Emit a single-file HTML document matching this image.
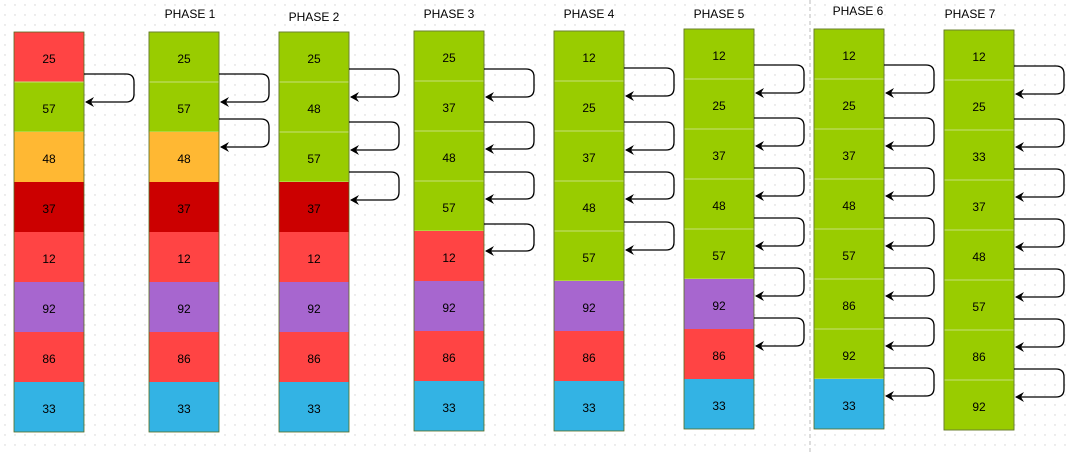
<!DOCTYPE html>
<html><head><style>html,body{margin:0;padding:0;background:#fff}</style></head><body>
<svg width="1074" height="454" xmlns="http://www.w3.org/2000/svg" font-family="Liberation Sans, sans-serif" font-size="12">
<defs>
<pattern id="g" width="10" height="10" patternUnits="userSpaceOnUse"><circle cx="5" cy="5" r="0.7" fill="#d0d0d0"/></pattern>
<marker id="a" markerWidth="10" markerHeight="10" refX="8" refY="5" orient="auto" markerUnits="userSpaceOnUse"><path d="M0,0 L9,5 L0,10 L3,5 Z" fill="#000"/></marker>
</defs>
<rect width="1074" height="454" fill="url(#g)"/>
<line x1="810" y1="0" x2="810" y2="454" stroke="#bbb" stroke-dasharray="4,3"/>
<g text-anchor="middle" fill="#000">
<text x="190" y="18">PHASE 1</text><text x="314" y="21">PHASE 2</text><text x="449" y="18">PHASE 3</text>
<text x="589" y="18">PHASE 4</text><text x="719" y="18">PHASE 5</text><text x="858" y="15">PHASE 6</text><text x="970" y="18">PHASE 7</text>
</g>
<g id="cols"></g>
<g id="arr" fill="none" stroke="#000" stroke-width="1.3"></g>
</svg>
<script>
var C={R:'#ff4444',G:'#99cc00',O:'#ffb833',D:'#cc0000',P:'#a766cf',B:'#33b3e4'};
var cols=[
[14,32,[[25,'R'],[57,'G'],[48,'O'],[37,'D'],[12,'R'],[92,'P'],[86,'R'],[33,'B']],[[74,102]]],
[149,32,[[25,'G'],[57,'G'],[48,'O'],[37,'D'],[12,'R'],[92,'P'],[86,'R'],[33,'B']],[[74,102],[119,147]]],
[279,32,[[25,'G'],[48,'G'],[57,'G'],[37,'D'],[12,'R'],[92,'P'],[86,'R'],[33,'B']],[[69,97],[122,150],[172,200]]],
[414,31,[[25,'G'],[37,'G'],[48,'G'],[57,'G'],[12,'R'],[92,'P'],[86,'R'],[33,'B']],[[69,97],[122,149],[172,199],[224,251]]],
[554,31,[[12,'G'],[25,'G'],[37,'G'],[48,'G'],[57,'G'],[92,'P'],[86,'R'],[33,'B']],[[68,96],[122,150],[172,199],[222,250]]],
[684,29,[[12,'G'],[25,'G'],[37,'G'],[48,'G'],[57,'G'],[92,'P'],[86,'R'],[33,'B']],[[65,93],[118,146],[168,196],[218,246],[268,296],[318,346]]],
[814,29,[[12,'G'],[25,'G'],[37,'G'],[48,'G'],[57,'G'],[86,'G'],[92,'G'],[33,'B']],[[65,93],[118,146],[168,196],[218,246],[268,296],[318,346],[368,396]]],
[944,30,[[12,'G'],[25,'G'],[33,'G'],[37,'G'],[48,'G'],[57,'G'],[86,'G'],[92,'G']],[[66,94],[119,147],[169,197],[219,247],[269,297],[319,347],[369,397]]]
];
var ns='http://www.w3.org/2000/svg',g=document.getElementById('cols'),ag=document.getElementById('arr');
function el(t,a,p){var e=document.createElementNS(ns,t);for(var k in a)e.setAttribute(k,a[k]);p.appendChild(e);return e;}
cols.forEach(function(c){
 var x=c[0],y=c[1];
 c[2].forEach(function(v,i){
  var yy=y+i*50;
  el('rect',{x:x,y:yy,width:70,height:50,fill:C[v[1]],stroke:v[1]=='G'?'#c8e07a':'none','stroke-width':1},g);
  var t=el('text',{x:x+35,y:yy+31,'text-anchor':'middle',fill:'#000'},g);t.textContent=v[0];
 });
 el('rect',{x:x,y:y,width:70,height:400,fill:'none',stroke:'#556b1f','stroke-width':0.8},g);
 c[3].forEach(function(a){
  var r=x+70,e=r+50;
  el('path',{d:'M'+r+','+a[0]+' H'+(e-8)+' Q'+e+','+a[0]+' '+e+','+(a[0]+8)+' V'+(a[1]-8)+' Q'+e+','+a[1]+' '+(e-8)+','+a[1]+' H'+(r+2),'marker-end':'url(#a)'},ag);
 });
});
</script>
</body></html>
